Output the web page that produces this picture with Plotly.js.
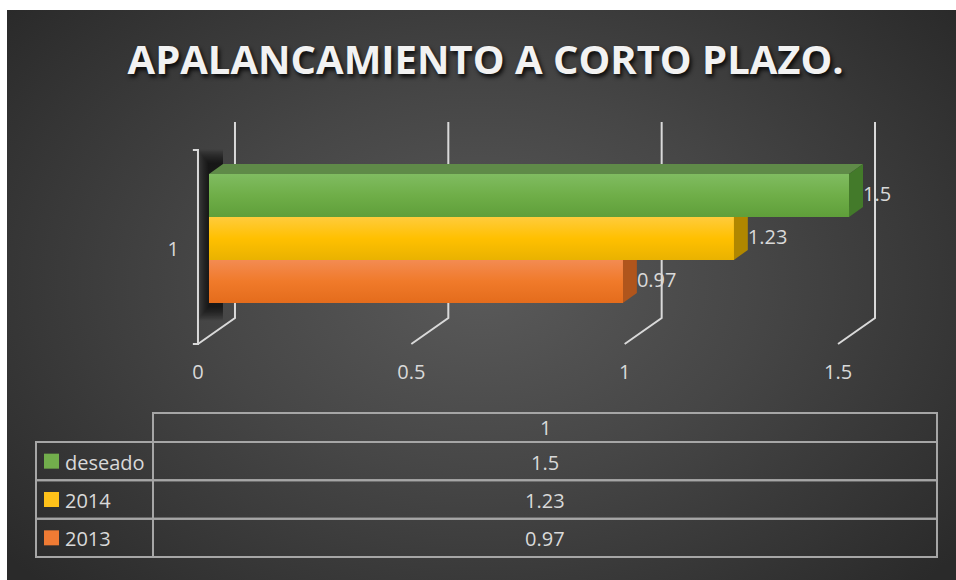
<!DOCTYPE html>
<html>
<head>
<meta charset="utf-8">
<script src="https://cdn.plot.ly/plotly-3.0.1.min.js"></script>
<style>
  html, body { margin:0; padding:0; background:#ffffff; width:956px; height:580px; overflow:hidden; }
  #bg { position:absolute; left:7px; top:10px; width:949px; height:570px;
        background: radial-gradient(ellipse 65% 75% at 50% 48%, #5a5a5a 0%, #464646 45%, #2a2a2a 100%); }
  #chart { position:absolute; left:0; top:0; width:956px; height:580px; }
</style>
</head>
<body>
<div id="bg"></div>
<div id="chart"></div>
<script>
// ---------------- DATA ----------------
const chartTitle = 'APALANCAMIENTO A CORTO PLAZO.';
const categories = ['1'];
const seriesNames = ['2013', '2014', 'deseado'];      // drawn bottom -> top
const seriesValues = [0.97, 1.23, 1.5];
const tickValues = [0, 0.5, 1, 1.5];
const tickLabels = ['0', '0.5', '1', '1.5'];

// ---------------- STYLE ----------------
const frontColors = ['#f07a2a', '#ffc000', '#6fae48'];
const gradTop     = ['#f38b52', '#ffcb3c', '#80bc61'];
const gradMid     = ['#f07a2a', '#ffc000', '#6fae48'];
const gradBot     = ['#e46c1c', '#e9b200', '#5f9f3a'];
const topColors   = ['#c9642a', '#d9a300', '#5f8a48'];
const sideColors  = ['#b0551c', '#b08700', '#437a2a'];
const keyColors   = ['#ef7b34', '#ffc21a', '#72ae4c'];
const textColor = '#d9d9d9';
const gridColor = '#d9d9d9';
const tableLine = '#a6a6a6';
const FONT = 'Open Sans, Liberation Sans, sans-serif';

// 3D geometry offsets (axis units)
const BAR_DX = 0.0328, BAR_DY = 0.05;
const BACK_DX = 0.0609, FRONT_DX = -0.0258;
const BACK_TOP = 0.5825, BACK_BOT = -0.3975, FRONT_BOT = -0.5275, FRONT_TOP = 0.4425;
const BARGAP = 0.355;
const nS = seriesNames.length;
const barW = (1 - BARGAP) / nS;

// table geometry (pixels -> paper)
const W = 956, H = 580;
const px = x => x / W, py = y => 1 - y / H;
const T_LEFT = 36, T_DIV = 153, T_RIGHT = 937, T_TOP = 413, T_HEAD = 442, T_BOT = 557;

// ---------------- TRACES ----------------
const traces = [];
seriesNames.forEach((name, i) => {
  traces.push({
    type: 'bar', orientation: 'h', name: name,
    x: [seriesValues[i]], y: [0],
    marker: { color: frontColors[i], line: { width: 0 } },
    hoverinfo: 'skip', showlegend: false
  });
});
// shading of the front faces (same bar rectangle, vertical gradient)
seriesValues.forEach((v, i) => {
  const yc = (i - (nS - 1) / 2) * barW;
  const y0 = yc - barW / 2, y1 = yc + barW / 2;
  traces.push({
    type: 'scatter', mode: 'lines', x: [0, v, v, 0, 0], y: [y0, y0, y1, y1, y0],
    fill: 'toself', line: { width: 0 },
    fillgradient: { type: 'vertical', colorscale: [[0, gradBot[i]], [0.5, gradMid[i]], [1, gradTop[i]]] },
    hoverinfo: 'skip', showlegend: false
  });
});
// data labels at the back-right end of each bar
traces.push({
  type: 'scatter', mode: 'text',
  x: seriesValues.map(v => v + BAR_DX),
  y: seriesNames.map((n, i) => (i - (nS - 1) / 2) * barW),
  text: seriesValues.map(v => String(v)),
  textposition: 'middle right',
  textfont: { family: FONT, size: 20, color: textColor },
  hoverinfo: 'skip', showlegend: false, cliponaxis: false
});
// dummy trace to activate xaxis2
traces.push({ type: 'scatter', x: [0], y: [0], xaxis: 'x2', yaxis: 'y', mode: 'markers',
  marker: { opacity: 0 }, hoverinfo: 'skip', showlegend: false });

// ---------------- SHAPES ----------------
const shapes = [];
const annotations = [];
const P = pts => 'M ' + pts.map(p => p[0] + ',' + p[1]).join(' L ') + ' Z';
const L = pts => 'M ' + pts.map(p => p[0] + ',' + p[1]).join(' L ');
const lineStyle = { color: gridColor, width: 2 };

// soft shadow of the bars on the left wall
const barsTop = ((nS - 1) / 2) * barW + barW / 2;
const barsBot = -barsTop;
for (let k = 0; k < 12; k++) {
  const grow = (11 - k);
  shapes.push({ type: 'rect', xref: 'x', yref: 'y', layer: 'below',
    x0: -0.002 - grow * 0.0022, x1: BAR_DX, y0: barsBot - 0.02 - grow * 0.006, y1: barsTop + BAR_DY + 0.005 + grow * 0.006,
    fillcolor: 'rgba(0,0,0,0.075)', line: { width: 0 } });
}

// gridlines: back verticals + floor diagonals
tickValues.forEach(v => {
  shapes.push({ type: 'path', xref: 'x', yref: 'y', layer: 'below',
    path: L([[v + BACK_DX, BACK_TOP], [v + BACK_DX, BACK_BOT], [v + FRONT_DX, FRONT_BOT]]),
    line: lineStyle });
});
// left wall front edge with small ticks
shapes.push({ type: 'path', xref: 'x', yref: 'y', layer: 'below',
  path: L([[FRONT_DX - 0.012, FRONT_TOP], [FRONT_DX, FRONT_TOP], [FRONT_DX, FRONT_BOT], [FRONT_DX - 0.012, FRONT_BOT]]),
  line: lineStyle });

// bar top and side faces
seriesValues.forEach((v, i) => {
  const yc = (i - (nS - 1) / 2) * barW;
  const y0 = yc - barW / 2, y1 = yc + barW / 2;
  shapes.push({ type: 'path', xref: 'x', yref: 'y', layer: 'below',
    path: P([[0, y1], [v, y1], [v + BAR_DX, y1 + BAR_DY], [BAR_DX, y1 + BAR_DY]]),
    fillcolor: topColors[i], line: { width: 0 } });
  shapes.push({ type: 'path', xref: 'x', yref: 'y', layer: 'below',
    path: P([[v, y0], [v, y1], [v + BAR_DX, y1 + BAR_DY], [v + BAR_DX, y0 + BAR_DY]]),
    fillcolor: sideColors[i], line: { width: 0 } });
});

// ---------------- DATA TABLE ----------------
const tl = { color: tableLine, width: 2 };
const rowNames = seriesNames.slice().reverse();
const rowValues = seriesValues.slice().reverse();
const rowKeys = keyColors.slice().reverse();
const rowH = (T_BOT - T_HEAD) / rowNames.length;
shapes.push({ type: 'rect', xref: 'paper', yref: 'paper', x0: px(T_DIV), x1: px(T_RIGHT), y0: py(T_HEAD), y1: py(T_TOP), line: tl });
annotations.push({ xref: 'paper', yref: 'paper', x: px((T_DIV + T_RIGHT) / 2), y: py((T_TOP + T_HEAD) / 2),
  text: categories[0], showarrow: false, xanchor: 'center', yanchor: 'middle',
  font: { family: FONT, size: 20, color: textColor } });
rowNames.forEach((n, r) => {
  const top = T_HEAD + r * rowH, bot = top + rowH, mid = (top + bot) / 2;
  shapes.push({ type: 'rect', xref: 'paper', yref: 'paper', x0: px(T_LEFT), x1: px(T_DIV), y0: py(bot), y1: py(top), line: tl });
  shapes.push({ type: 'rect', xref: 'paper', yref: 'paper', x0: px(T_DIV), x1: px(T_RIGHT), y0: py(bot), y1: py(top), line: tl });
  shapes.push({ type: 'rect', xref: 'paper', yref: 'paper', x0: px(44), x1: px(59), y0: py(mid + 7.5), y1: py(mid - 7.5),
    fillcolor: rowKeys[r], line: { width: 0 } });
  annotations.push({ xref: 'paper', yref: 'paper', x: px(63), y: py(mid + 1),
    text: n, showarrow: false, xanchor: 'left', yanchor: 'middle',
    font: { family: FONT, size: 20, color: textColor } });
  annotations.push({ xref: 'paper', yref: 'paper', x: px((T_DIV + T_RIGHT) / 2), y: py(mid + 1),
    text: String(rowValues[r]), showarrow: false, xanchor: 'center', yanchor: 'middle',
    font: { family: FONT, size: 20, color: textColor } });
});

// ---------------- LAYOUT ----------------
const layout = {
  width: W, height: H,
  margin: { l: 0, r: 0, t: 0, b: 0, pad: 0 },
  paper_bgcolor: 'rgba(0,0,0,0)', plot_bgcolor: 'rgba(0,0,0,0)',
  showlegend: false,
  barmode: 'group', bargap: BARGAP, bargroupgap: 0,
  title: {
    text: chartTitle,
    font: { family: FONT, size: 40, color: '#f2f2f2', weight: 'bold', shadow: '2px 3px 4px rgba(0,0,0,0.85)' },
    xref: 'container', yref: 'container', x: 0.508, xanchor: 'center', y: 1 - 60/580, yanchor: 'middle'
  },
  xaxis: { domain: [0, 1], range: [-0.4898, 1.7507], visible: false, fixedrange: true },
  xaxis2: {
    overlaying: 'x', anchor: 'free', position: 1 - 350/580,
    range: [-198/426.7, (956 - 198)/426.7],
    tickvals: tickValues, ticktext: tickLabels, ticks: '',
    showline: false, showgrid: false, zeroline: false,
    tickfont: { family: FONT, size: 20, color: textColor },
    ticklabelstandoff: 8, fixedrange: true
  },
  yaxis: {
    domain: [0, 1], range: [-1.7075, 1.1925], anchor: 'free', position: 197/956,
    tickvals: [0], ticktext: categories, ticks: '',
    showline: false, showgrid: false, zeroline: false,
    tickfont: { family: FONT, size: 20, color: textColor },
    ticklabelstandoff: 18, ticklabelshift: 10, fixedrange: true
  },
  shapes: shapes,
  annotations: annotations
};

Plotly.newPlot('chart', traces, layout, { displayModeBar: false, staticPlot: true });
</script>
</body>
</html>
